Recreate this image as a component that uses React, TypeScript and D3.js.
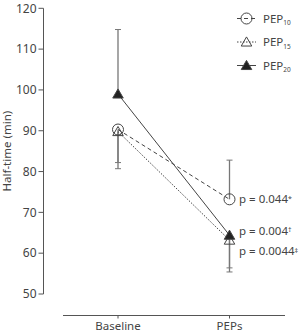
import React, { useEffect, useRef } from 'react';
import * as d3 from 'd3';

const categories = ['Baseline', 'PEPs'];
const yTicks = [50, 60, 70, 80, 90, 100, 110, 120];

const seriesNames = ['PEP10', 'PEP15', 'PEP20'];
const pep10Values = [90.3, 73.2];
const pep15Values = [89.8, 63.2];
const pep20Values = [99.0, 64.4];
// end of the drawn whisker for each point
const pep10Whiskers = [82.2, 82.8];
const pep15Whiskers = [80.7, 55.4];
const pep20Whiskers = [114.8, 56.4];
const pLabels = ['p = 0.044', 'p = 0.004', 'p = 0.0044'];
const pMarks = ['*', '\u2020', '\u2021'];
const pLabelValues = [73.2, 65.5, 60.5];

const App = () => {
  const svgRef = useRef<SVGSVGElement>(null);

  useEffect(() => {
    const svg = d3.select(svgRef.current);
    svg.selectAll('*').remove();

    const font = '"Noto Sans", sans-serif';
    const lineColor = '#444';
    const barColor = '#777';

    const y = d3.scaleLinear().domain([50, 120]).range([294, 8.3]);
    const x = d3.scalePoint().domain(categories).range([118, 229.5]);

    // y axis
    const yAxis = svg.append('g').attr('transform', 'translate(43.5,0)');
    yAxis.append('line').attr('y1', y(120)).attr('y2', y(50)).attr('stroke', '#555');
    yAxis.selectAll('.tk').data(yTicks).enter().append('line')
      .attr('x1', -5).attr('x2', 0)
      .attr('y1', d => y(d)).attr('y2', d => y(d))
      .attr('stroke', '#555');
    yAxis.selectAll('.tl').data(yTicks).enter().append('text')
      .attr('x', -7).attr('y', d => y(d)).attr('dy', '0.35em')
      .attr('text-anchor', 'end')
      .style('font-family', font).style('font-size', '12px').style('fill', '#444')
      .text(d => d);

    svg.append('text')
      .attr('transform', `translate(11,${(y(120) + y(50)) / 2}) rotate(-90)`)
      .attr('text-anchor', 'middle')
      .style('font-family', font).style('font-size', '11.5px').style('fill', '#444')
      .text('Half-time (min)');

    // x axis
    const xAxis = svg.append('g').attr('transform', 'translate(0,315.5)');
    xAxis.append('line').attr('x1', 63).attr('x2', 285).attr('stroke', '#555');
    xAxis.selectAll('.tk').data(categories).enter().append('line')
      .attr('x1', d => x(d)!).attr('x2', d => x(d)!)
      .attr('y1', 0).attr('y2', 3).attr('stroke', '#555');
    xAxis.selectAll('.tl').data(categories).enter().append('text')
      .attr('x', d => x(d)!).attr('y', 14)
      .attr('text-anchor', 'middle')
      .style('font-family', font).style('font-size', '11.5px').style('fill', '#444')
      .text(d => d);

    const series = [
      { name: seriesNames[0], values: pep10Values, whiskers: pep10Whiskers, dash: '4,3', marker: 'circle' },
      { name: seriesNames[1], values: pep15Values, whiskers: pep15Whiskers, dash: '1.5,1.5', marker: 'open' },
      { name: seriesNames[2], values: pep20Values, whiskers: pep20Whiskers, dash: null, marker: 'filled' },
    ];

    // error bars
    series.forEach(s => {
      s.values.forEach((v, i) => {
        const cx = x(categories[i])!;
        const w = s.whiskers[i];
        svg.append('line')
          .attr('x1', cx).attr('x2', cx)
          .attr('y1', y(v)).attr('y2', y(w))
          .attr('stroke', barColor).attr('stroke-width', 1.3);
        svg.append('line')
          .attr('x1', cx - 3).attr('x2', cx + 3)
          .attr('y1', y(w)).attr('y2', y(w))
          .attr('stroke', barColor).attr('stroke-width', 1);
      });
    });

    const line = d3.line<number>()
      .x((_, i) => x(categories[i])!)
      .y(d => y(d));

    const triangle = d3.symbol().type(d3.symbolTriangle).size(48);

    const drawMarker = (g: any, kind: string, cx: number, cy: number) => {
      if (kind === 'circle') {
        g.append('circle').attr('cx', cx).attr('cy', cy).attr('r', 5.5)
          .attr('fill', 'white').attr('fill-opacity', 0).attr('stroke', lineColor).attr('stroke-width', 1);
      } else {
        g.append('path').attr('d', triangle()!)
          .attr('transform', `translate(${cx},${cy + 1})`)
          .attr('fill', kind === 'filled' ? '#222' : 'white')
          .attr('fill-opacity', kind === 'filled' ? 1 : 0)
          .attr('stroke', lineColor).attr('stroke-width', 1);
      }
    };

    series.forEach(s => {
      svg.append('path').datum(s.values)
        .attr('d', line)
        .attr('fill', 'none')
        .attr('stroke', lineColor)
        .attr('stroke-width', 1)
        .attr('stroke-dasharray', s.dash);
    });
    series.forEach(s => {
      s.values.forEach((v, i) => drawMarker(svg, s.marker, x(categories[i])!, y(v)));
    });

    // p-value labels
    pLabels.forEach((label, i) => {
      const t = svg.append('text')
        .attr('x', 239).attr('y', y(pLabelValues[i])).attr('dy', '0.35em')
        .style('font-family', font).style('font-size', '11.5px').style('fill', '#444');
      t.append('tspan').text(label);
      t.append('tspan').attr('dy', '-0.35em').style('font-size', '7px').text(pMarks[i]);
    });

    // legend
    const legend = svg.append('g');
    series.forEach((s, i) => {
      const ly = 18.5 + i * 23.5;
      legend.append('line')
        .attr('x1', 237).attr('x2', 256).attr('y1', ly).attr('y2', ly)
        .attr('stroke', lineColor).attr('stroke-dasharray', s.dash);
      drawMarker(legend, s.marker, 246.5, ly);
      const t = legend.append('text')
        .attr('x', 263).attr('y', ly).attr('dy', '0.35em')
        .style('font-family', font).style('font-size', '11.5px').style('fill', '#444');
      t.append('tspan').text(s.name.slice(0, 3));
      t.append('tspan').attr('dy', '0.45em').style('font-size', '6.5px').text(s.name.slice(3));
    });
  }, []);

  return (
    <svg
      ref={svgRef}
      width={301}
      height={333}
      style={{ display: 'block', position: 'absolute', left: 0, top: 0 }}
    />
  );
};

export default App;
